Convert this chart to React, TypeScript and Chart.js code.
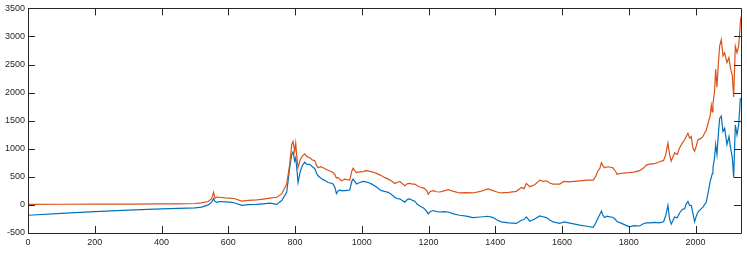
import React, { useEffect, useRef } from "react";
import { Chart, registerables } from "chart.js";

Chart.register(...registerables);

// [x, value] pairs
const orangePoints: [number, number][] = [
  [0, 10], [100, 12], [200, 14], [300, 16], [400, 18], [450, 20], [500, 25], [520, 35], [540, 60], [550, 110],
  [556, 225], [560, 120], [566, 140], [575, 137], [590, 125], [605, 120], [620, 110], [640, 67], [660, 80], [685, 91],
  [705, 105], [724, 120], [745, 137], [760, 196], [775, 372], [784, 722], [790, 1073], [794, 1131], [799, 956], [802, 1102],
  [806, 820], [809, 663], [816, 810], [822, 870], [829, 909], [836, 860], [844, 839], [852, 800], [859, 790], [865, 700],
  [869, 663], [877, 680], [884, 663], [891, 640], [899, 617], [906, 600], [914, 576], [920, 530], [924, 480], [929, 488],
  [934, 460], [939, 430], [944, 445], [949, 459], [956, 450], [964, 442], [970, 600], [974, 652], [979, 610], [984, 576],
  [994, 590], [1004, 593], [1012, 610], [1019, 605], [1030, 590], [1044, 562], [1052, 540], [1059, 518], [1068, 490], [1079, 459],
  [1088, 430], [1099, 380], [1106, 400], [1114, 418], [1121, 380], [1129, 342], [1137, 380], [1144, 383], [1152, 370], [1159, 372],
  [1166, 340], [1174, 320], [1186, 300], [1194, 260], [1199, 190], [1205, 240], [1214, 254], [1224, 235], [1234, 230], [1246, 250],
  [1259, 272], [1275, 240], [1293, 213], [1313, 220], [1333, 213], [1355, 240], [1378, 284], [1393, 254], [1405, 230], [1418, 213],
  [1440, 225], [1463, 242], [1478, 313], [1486, 290], [1493, 383], [1503, 325], [1518, 360], [1533, 442], [1543, 420], [1553, 430],
  [1563, 390], [1573, 372], [1593, 372], [1605, 418], [1620, 410], [1653, 430], [1675, 440], [1693, 442], [1700, 500], [1707, 605],
  [1713, 650], [1718, 751], [1722, 700], [1727, 663], [1735, 680], [1743, 675], [1752, 660], [1760, 600], [1765, 547], [1775, 560],
  [1790, 570], [1802, 576], [1815, 585], [1832, 610], [1845, 660], [1852, 710], [1862, 725], [1877, 734], [1892, 768], [1904, 793],
  [1910, 880], [1917, 1102], [1922, 898], [1927, 781], [1937, 926], [1945, 900], [1952, 1014], [1960, 1100], [1967, 1161], [1972, 1220],
  [1977, 1277], [1982, 1190], [1987, 1219], [1992, 1014], [1997, 956], [2002, 1050], [2007, 1161], [2015, 1180], [2022, 1219], [2032, 1336],
  [2040, 1512], [2044, 1600], [2047, 1775], [2050, 1658], [2052, 1800], [2057, 2038], [2060, 2418], [2064, 2096], [2068, 2500], [2072, 2827],
  [2077, 2944], [2082, 2652], [2087, 2710], [2094, 2535], [2100, 2623], [2104, 2447], [2110, 2301], [2114, 1921], [2119, 2827], [2124, 2710],
  [2129, 2827], [2134, 3236], [2136, 3354],
];

const bluePoints: [number, number][] = [
  [0, -184], [100, -150], [200, -120], [300, -94], [400, -72], [450, -60], [500, -52], [520, -40], [540, 0], [550, 50],
  [556, 112], [560, 60], [566, 45], [575, 61], [590, 55], [605, 50], [620, 35], [640, -9], [660, 5], [685, 9],
  [705, 20], [724, 32], [745, 9], [760, 79], [775, 225], [784, 663], [790, 898], [794, 944], [799, 781], [802, 839],
  [806, 600], [809, 400], [816, 605], [822, 700], [829, 760], [836, 720], [844, 722], [852, 680], [859, 650], [865, 560],
  [869, 518], [877, 480], [884, 450], [891, 430], [899, 400], [906, 390], [914, 372], [920, 300], [924, 200], [929, 250],
  [934, 266], [939, 250], [944, 254], [949, 254], [956, 260], [964, 266], [970, 420], [974, 459], [979, 420], [984, 372],
  [994, 400], [1004, 418], [1012, 410], [1019, 400], [1030, 370], [1044, 320], [1052, 280], [1059, 254], [1068, 240], [1079, 225],
  [1088, 190], [1099, 137], [1106, 110], [1114, 109], [1121, 80], [1129, 50], [1137, 100], [1144, 109], [1152, 80], [1159, 67],
  [1166, 10], [1174, -20], [1186, -60], [1194, -110], [1199, -160], [1205, -120], [1214, -100], [1224, -120], [1234, -126], [1246, -120],
  [1259, -126], [1275, -160], [1293, -184], [1313, -200], [1333, -225], [1355, -215], [1378, -202], [1393, -225], [1405, -270], [1418, -302],
  [1440, -320], [1463, -330], [1478, -272], [1486, -260], [1493, -213], [1503, -290], [1518, -250], [1533, -196], [1543, -210], [1553, -225],
  [1563, -270], [1573, -301], [1593, -330], [1605, -301], [1620, -320], [1653, -360], [1675, -380], [1693, -400], [1700, -330], [1707, -243],
  [1713, -170], [1718, -108], [1722, -180], [1727, -225], [1735, -200], [1743, -213], [1752, -220], [1760, -260], [1765, -301], [1775, -320],
  [1790, -360], [1802, -389], [1815, -370], [1832, -375], [1845, -330], [1852, -320], [1862, -319], [1877, -310], [1892, -319], [1904, -301],
  [1910, -202], [1917, -9], [1922, -250], [1927, -342], [1937, -213], [1945, -230], [1952, -143], [1960, -80], [1967, -67], [1972, 20],
  [1977, 61], [1982, -10], [1987, -9], [1992, -150], [1997, -301], [2002, -200], [2007, -126], [2015, -80], [2022, -38], [2032, 50],
  [2040, 300], [2044, 430], [2047, 488], [2050, 560], [2052, 663], [2057, 850], [2060, 1073], [2064, 898], [2068, 1250], [2072, 1540],
  [2077, 1582], [2082, 1307], [2087, 1365], [2094, 1073], [2100, 1219], [2104, 1044], [2110, 839], [2114, 488], [2119, 1424], [2124, 1249],
  [2129, 1424], [2134, 1891], [2136, 1892],
];

const xTickValues = [0, 200, 400, 600, 800, 1000, 1200, 1400, 1600, 1800, 2000];
const yTickValues = [-500, 0, 500, 1000, 1500, 2000, 2500, 3000, 3500];

const X_MIN = 0;
const X_MAX = 2136;
const Y_MIN = -500;
const Y_MAX = 3500;

const AXIS_COLOR = "#262626";

const boxPlugin = {
  id: "matlabBox",
  afterDatasetsDraw(chart: any) {
    const { ctx, chartArea } = chart;
    const xs = chart.scales.x;
    const ys = chart.scales.y;
    const { left, right, top, bottom } = chartArea;
    const tl = 7;
    ctx.save();
    ctx.strokeStyle = AXIS_COLOR;
    ctx.lineWidth = 1;
    ctx.beginPath();
    ctx.rect(Math.round(left) + 0.5, Math.round(top) + 0.5, Math.round(right - left), Math.round(bottom - top));
    ctx.stroke();
    ctx.beginPath();
    for (const v of xTickValues) {
      const px = Math.round(xs.getPixelForValue(v)) + 0.5;
      ctx.moveTo(px, bottom);
      ctx.lineTo(px, bottom - tl);
      ctx.moveTo(px, top);
      ctx.lineTo(px, top + tl);
    }
    for (const v of yTickValues) {
      const py = Math.round(ys.getPixelForValue(v)) + 0.5;
      ctx.moveTo(left, py);
      ctx.lineTo(left + tl, py);
      ctx.moveTo(right, py);
      ctx.lineTo(right - tl, py);
    }
    ctx.stroke();
    ctx.restore();
  },
};

export default function App() {
  const canvasRef = useRef<HTMLCanvasElement | null>(null);

  useEffect(() => {
    document.body.style.margin = "0";
    const canvas = canvasRef.current;
    if (!canvas) return;
    const font = { family: "'Liberation Sans', Arial, Helvetica, sans-serif", size: 9 };
    const chart = new Chart(canvas, {
      type: "line",
      data: {
        datasets: [
          {
            label: "series 1",
            data: orangePoints.map(([x, y]) => ({ x, y })),
            borderColor: "#D95319",
            borderWidth: 1.2,
            pointRadius: 0,
            tension: 0,
            fill: false,
          },
          {
            label: "series 2",
            data: bluePoints.map(([x, y]) => ({ x, y })),
            borderColor: "#0072BD",
            borderWidth: 1.2,
            pointRadius: 0,
            tension: 0,
            fill: false,
          },
        ],
      },
      options: {
        animation: false,
        responsive: true,
        maintainAspectRatio: false,
        layout: { padding: { left: 0, top: 5, right: 6, bottom: 0 } },
        plugins: { legend: { display: false }, tooltip: { enabled: false } },
        scales: {
          x: {
            type: "linear",
            min: X_MIN,
            max: X_MAX,
            grid: { display: false, drawTicks: false },
            border: { display: false },
            afterFit: (s: any) => {
              s.height = 21;
            },
            afterBuildTicks: (s: any) => {
              s.ticks = xTickValues.map((v) => ({ value: v }));
            },
            ticks: {
              includeBounds: false,
              autoSkip: false,
              maxRotation: 0,
              padding: 4,
              color: AXIS_COLOR,
              font,
              callback: (v: any) => String(v),
            },
          },
          y: {
            type: "linear",
            min: Y_MIN,
            max: Y_MAX,
            grid: { display: false, drawTicks: false },
            border: { display: false },
            afterFit: (s: any) => {
              s.width = 28;
            },
            afterBuildTicks: (s: any) => {
              s.ticks = yTickValues.map((v) => ({ value: v }));
            },
            ticks: {
              includeBounds: false,
              autoSkip: false,
              padding: 3,
              color: AXIS_COLOR,
              font,
              callback: (v: any) => String(v),
            },
          },
        },
      },
      plugins: [boxPlugin],
    });
    return () => chart.destroy();
  }, []);

  return (
    <div style={{ position: "fixed", left: 0, top: 0, width: 747, height: 254, background: "#fff" }}>
      <canvas ref={canvasRef} />
    </div>
  );
}
